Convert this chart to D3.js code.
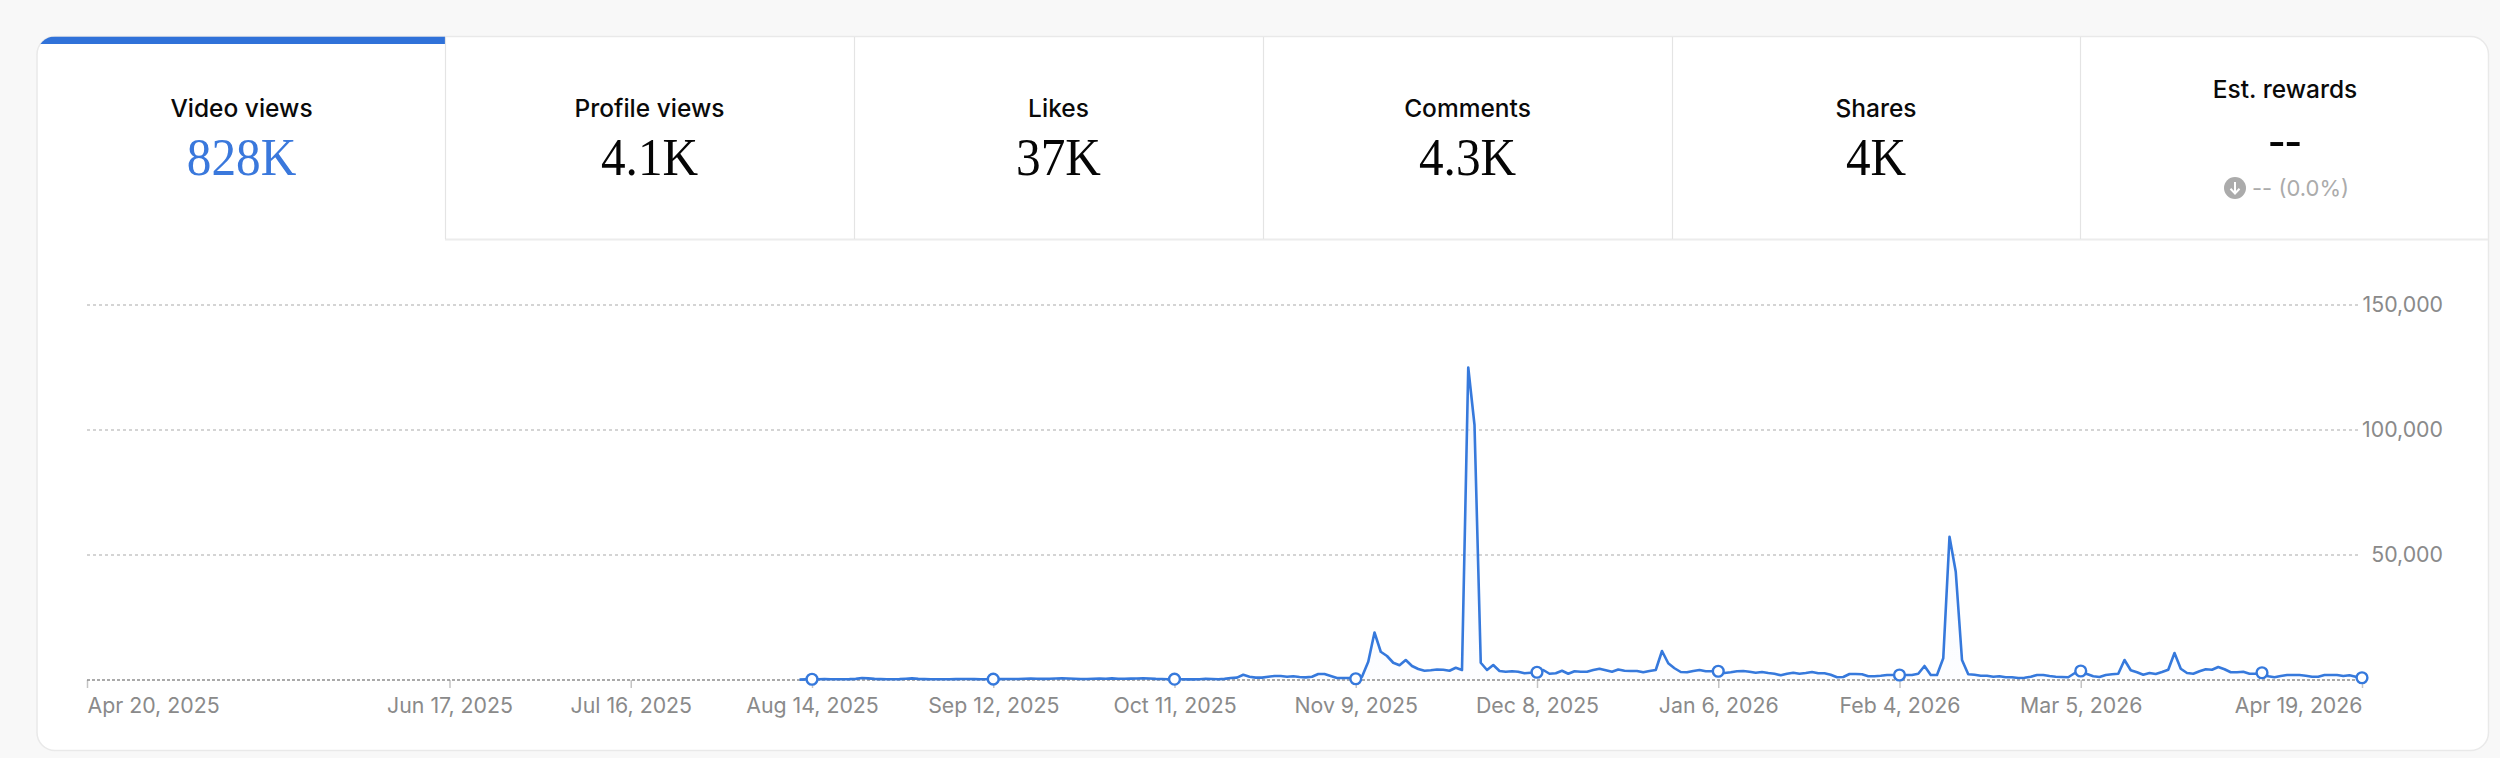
<!DOCTYPE html>
<html>
<head>
<meta charset="utf-8">
<script src="https://cdn.jsdelivr.net/npm/d3@7"></script>
<style>
html,body{margin:0;padding:0;background:#f8f8f8;}
svg{display:block;}
text{font-family:Inter,sans-serif;}
</style>
</head>
<body>
<div id="chart"></div>
<script>
const tabLabels = ["Video views","Profile views","Likes","Comments","Shares","Est. rewards"];
const tabValues = ["828K","4.1K","37K","4.3K","4K","--"];
const deltaLabel = "-- (0.0%)";
const yTicks = [0,50000,100000,150000];
const xTickLabels = ["Apr 20, 2025","Jun 17, 2025","Jul 16, 2025","Aug 14, 2025","Sep 12, 2025","Oct 11, 2025","Nov 9, 2025","Dec 8, 2025","Jan 6, 2026","Feb 4, 2026","Mar 5, 2026","Apr 19, 2026"];
const markerLabels = ["Aug 14, 2025","Sep 12, 2025","Oct 11, 2025","Nov 9, 2025","Dec 8, 2025","Jan 6, 2026","Feb 4, 2026","Mar 5, 2026","Apr 3, 2026","Apr 19, 2026"];
const firstDay = "Aug 12, 2025";
const augViews = [150,250,300,320,350,300,300,310,350,450,800,650,450,350,300,310,350,500,650,450];
const sepViews = [350,300,300,310,320,350,400,380,350,320,330,350,340,400,380,420,500,620,520,450,500,620,680,620,500,420,430,520,560,520];
const octViews = [650,520,480,560,620,680,580,450,380,330,320,270,270,270,280,530,420,300,450,800,950,2100,1300,950,950,1300,1600,1600,1300,1500,1200];
const novViews = [1050,1300,2400,2400,1600,800,800,800,500,1300,7300,19000,11300,9600,6900,5900,8000,5600,4400,3700,3900,4200,4100,3700,4900,4000,125000,102000,6900,4000];
const decViews = [6000,3600,3300,3500,3300,2700,2900,3100,4000,2500,2700,3700,2500,3500,3300,3300,4000,4500,3900,3300,4200,3700,3600,3600,3100,3600,4000,11600,6700,4700,3200];
const janViews = [3100,3600,4000,3500,3500,3500,2800,3100,3500,3600,3300,2900,3200,2800,2500,1900,2500,2900,2500,2800,3200,2700,2700,2100,1100,1200,2400,2400,2300,1500,1500];
const febViews = [1700,2000,2000,2000,2000,2000,2500,5600,2000,2000,8700,57300,43300,8000,2300,2100,1700,1700,1300,1500,1100,1100,800,900,1300,2000,2000,1600];
const marViews = [1300,1200,1100,2700,3600,2400,1500,1200,2000,2300,2500,8000,3900,3100,2100,2800,2400,3200,4100,10800,4500,2800,2500,3500,4300,4100,5200,4300,3100,3100,3300];
const aprViews = [2500,2500,2900,1500,1100,1600,2000,2000,2000,1700,1300,1300,2000,2000,2000,1600,1900,1300,900];

const W = 2500, H = 758;
const parse = s => new Date(Date.parse(s + " UTC"));
const views = [...augViews,...sepViews,...octViews,...novViews,...decViews,...janViews,...febViews,...marViews,...aprViews];
const series = views.map((v,i)=>({date:d3.utcDay.offset(parse(firstDay),i),value:v}));
const byDate = new Map(series.map(d=>[+d.date,d.value]));

const svg = d3.select("#chart").append("svg").attr("width",W).attr("height",H).attr("viewBox",`0 0 ${W} ${H}`);
const defs = svg.append("defs");
const card = {x:37,y:36.5,w:2451.5,h:714,r:18};
defs.append("clipPath").attr("id","cardClip").append("rect")
  .attr("x",card.x).attr("y",card.y).attr("width",card.w).attr("height",card.h).attr("rx",card.r);
const grad = defs.append("linearGradient").attr("id","areaFill").attr("x1",0).attr("y1",0).attr("x2",0).attr("y2",1);
grad.append("stop").attr("offset","0%").attr("stop-color","#e6effc");
grad.append("stop").attr("offset","100%").attr("stop-color","#fbfcff");

svg.append("rect").attr("x",card.x).attr("y",card.y).attr("width",card.w).attr("height",card.h).attr("rx",card.r)
  .attr("fill","#fff").attr("stroke","#e9e9e9").attr("stroke-width",1.5);

// tabs
const tabEdges = [38,445,854,1263,1672,2080,2488];
const tabs = svg.append("g");
tabs.append("rect").attr("x",37).attr("y",36.5).attr("width",408).attr("height",7.5).attr("fill","#3072d9").attr("clip-path","url(#cardClip)");
tabs.append("line").attr("x1",445).attr("x2",2488).attr("y1",239.5).attr("y2",239.5).attr("stroke","#ececec").attr("stroke-width",2);
tabs.selectAll("line.div").data(tabEdges.slice(1,-1)).join("line").attr("class","div")
  .attr("x1",d=>d+.5).attr("x2",d=>d+.5).attr("y1",37).attr("y2",239).attr("stroke","#e4e4e4").attr("stroke-width",1.2);
tabLabels.forEach((lab,i)=>{
  const cx = (tabEdges[i]+tabEdges[i+1])/2 + (i===5?1:0);
  const isLast = i===5;
  tabs.append("text").attr("x",cx).attr("y",isLast?98:116.5).attr("text-anchor","middle")
    .attr("font-size",24.5).attr("font-weight",500).attr("fill","#0a0a0a").text(lab);
  tabs.append("text").attr("transform",`translate(${cx},${isLast?157:175}) scale(.93,1)`).attr("text-anchor","middle")
    .style("font-family","'Liberation Serif',serif").attr("font-size",53)
    .attr("fill",i===0?"#3a78dc":"#050505").text(tabValues[i]);
});
const dg = tabs.append("g").attr("transform","translate(2235,188)");
dg.append("circle").attr("r",11).attr("fill","#ababab");
dg.append("path").attr("d","M0,-6V5M-4.5,0.8L0,5.5L4.5,0.8").attr("fill","none").attr("stroke","#fff").attr("stroke-width",2);
tabs.append("text").attr("x",2252).attr("y",196).attr("font-size",22).attr("fill","#ababab").text(deltaLabel);

// scales
const x = d3.scaleUtc().domain([parse("Apr 20, 2025"),parse("Apr 19, 2026")]).range([87,2362]);
const y = d3.scaleLinear().domain([0,150000]).range([680,305]);

// grid
const grid = svg.append("g");
grid.selectAll("line").data(yTicks.slice(1)).join("line")
  .attr("x1",87).attr("x2",2360).attr("y1",d=>y(d)).attr("y2",d=>y(d))
  .attr("stroke","#c6c6c6").attr("stroke-width",1.4).attr("stroke-dasharray","3 3");

// area + line
const area = d3.area().x(d=>x(d.date)).y0(y(0)).y1(d=>y(d.value));
const line = d3.line().x(d=>x(d.date)).y(d=>y(d.value));
svg.append("path").datum(series).attr("d",area).attr("fill","url(#areaFill)").attr("fill-opacity",.55);

// x axis
const xAxis = d3.axisBottom(x).tickValues(xTickLabels.map(parse)).tickSize(8).tickPadding(10)
  .tickFormat((d,i)=>xTickLabels[i]);
const gx = svg.append("g").attr("transform",`translate(0,${y(0)})`).call(xAxis);
gx.select(".domain").remove();
gx.selectAll(".tick line").attr("stroke","#c4c4c4").attr("stroke-width",1.5);
gx.selectAll(".tick text").style("font-family","Inter,sans-serif").attr("font-size",21.3).attr("fill","#8a8a8a")
  .attr("text-anchor",(d,i)=>i===0?"start":i===xTickLabels.length-1?"end":"middle");
svg.append("line").attr("x1",87).attr("x2",2360).attr("y1",y(0)).attr("y2",y(0))
  .attr("stroke","#8f8f8f").attr("stroke-width",1.4).attr("stroke-dasharray","3 2");

// y axis
const yAxis = d3.axisRight(y).tickValues(yTicks.slice(1)).tickSize(0).tickPadding(83).tickFormat(d3.format(","));
const gy = svg.append("g").attr("transform","translate(2360,0)").call(yAxis);
gy.select(".domain").remove();
gy.selectAll(".tick text").style("font-family","Inter,sans-serif").attr("font-size",21.3).attr("fill","#8a8a8a").attr("text-anchor","end");

svg.append("path").datum(series).attr("d",line).attr("fill","none").attr("stroke","#3679dc").attr("stroke-width",2.6).attr("stroke-linejoin","round");

// markers
svg.selectAll("circle.mark").data(markerLabels.map(parse)).join("circle").attr("class","mark")
  .attr("cx",d=>x(d)).attr("cy",d=>y(byDate.get(+d)))
  .attr("r",5.4).attr("fill","#fff").attr("stroke","#3679dc").attr("stroke-width",2.4);
</script>
</body>
</html>
